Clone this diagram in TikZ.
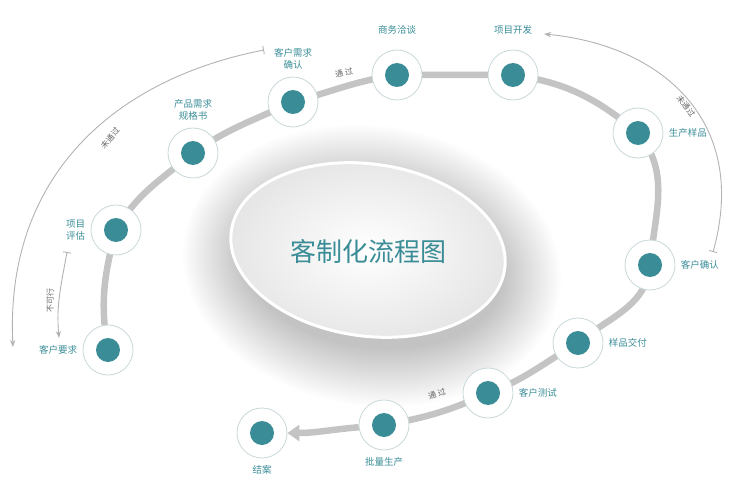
\documentclass[tikz,border=0pt]{standalone}
\usepackage{fontspec}
\usepackage[HTML]{xcolor}
\newfontfamily\cjk{Noto Sans CJK SC}
\usetikzlibrary{positioning, arrows.meta, backgrounds}
\definecolor{teal1}{HTML}{3A8D97}
\definecolor{ring}{HTML}{C9D8DA}
\definecolor{track}{HTML}{C4C4C4}
\tikzset{
  stage/.style={circle, draw=ring, line width=0.8pt, fill=white, minimum size=50pt, inner sep=0pt,
    path picture={\fill[teal1] (path picture bounding box.center) circle (12pt);}},
  lbl/.style={font=\cjk\fontsize{9.5}{11.5}\selectfont, text=teal1, align=center},
  pass/.style={font=\cjk\fontsize{8}{10}\selectfont, text=black!60},
  trackline/.style={draw=track, line width=6.5pt},
  back/.style={draw=black!30, line width=0.9pt},
}
\begin{document}
\begin{tikzpicture}[x=1pt,y=-1pt]
\useasboundingbox (0,0) rectangle (736,500);

% centre ellipse with soft shadow
\foreach \k in {1,...,30}
  \fill[black, opacity=0.006] (372,266) ellipse[x radius=130+2*\k, y radius=80+2*\k, rotate=-8];
\shade[inner color=white, outer color=black!10, draw=white, line width=3pt]
  (368,250) ellipse[x radius=138, y radius=86, rotate=-8];
\node[font=\cjk\fontsize{26}{30}\selectfont, text=teal1] (title) at (368,252) {客制化流程图};

% stages
\node[stage] (s1) at (108,350) {};
\node[stage] (s2) at (116,230) {};
\node[stage] (s3) at (193,153) {};
\node[stage] (s4) at (293,102) {};
\node[stage] (s5) at (397,75) {};
\node[stage] (s6) at (513,75) {};
\node[stage] (s7) at (638,133) {};
\node[stage] (s8) at (650,265) {};
\node[stage] (s9) at (578,343) {};
\node[stage] (s10) at (488,393) {};
\node[stage] (s11) at (384,425) {};
\node[stage] (s12) at (262,433) {};

% labels
\node[lbl, left=2pt of s1] (l1) {客户要求};
\node[lbl, left=2pt of s2] (l2) {项目\\评估};
\node[lbl, above=4pt of s3] (l3) {产品需求\\规格书};
\node[lbl, above=4pt of s4] (l4) {客户需求\\确认};
\node[lbl, above=12pt of s5] (l5) {商务洽谈};
\node[lbl, above=12pt of s6] (l6) {项目开发};
\node[lbl, right=2pt of s7] (l7) {生产样品};
\node[lbl, right=2pt of s8] (l8) {客户确认};
\node[lbl, right=2pt of s9] (l9) {样品交付};
\node[lbl, right=2pt of s10] (l10) {客户测试};
\node[lbl, below=4pt of s11] (l11) {批量生产};
\node[lbl, below=4pt of s12] (l12) {结案};

% pass marks
\node[pass, rotate=12] (p1) at (344,73) {通 过};
\node[pass, rotate=18] (p2) at (437,394) {通 过};
\node[pass, rotate=50] (p3) at (110,138) {未通过};
\node[pass, rotate=-52] (p4) at (686,106) {未通过};
\node[pass, rotate=90] (p5) at (50,300) {不可行};

\begin{scope}[on background layer]
\draw[trackline] (s1.center) to[out=100,in=-105] (s2.center) to[out=60,in=-140] (s3.center)
  to[out=35,in=-155] (s4.center) to[out=15,in=-172] (s5.center) to[out=0,in=180] (s6.center)
  to[out=-8,in=140] (s7.center) to[out=-50,in=85] (s8.center) to[out=-95,in=40] (s9.center)
  to[out=-150,in=20] (s10.center) to[out=-155,in=10] (s11.center);
\end{scope}
\draw[trackline, -{Triangle[length=12pt,width=16pt]}] (s11) to[out=185,in=0] (s12);

% return arcs
\coordinate (t1) at (264,50);
\coordinate (e1) at (13,347);
\draw[back, {Bar[width=8pt]}-{Stealth[length=7pt]}] (t1) .. controls (110,80) and (5,180) .. (e1);
\coordinate (t2) at (713,252);
\coordinate (e2) at (544,34);
\draw[back, {Bar[width=8pt]}-{Stealth[length=7pt]}] (t2) .. controls (750,120) and (660,45) .. (e2);
\coordinate (t3) at (67,252);
\coordinate (e3) at (59,338);
\draw[back, {Bar[width=8pt]}-{Stealth[length=7pt]}] (t3) to[out=-100,in=95] (e3);
\end{tikzpicture}
\end{document}
